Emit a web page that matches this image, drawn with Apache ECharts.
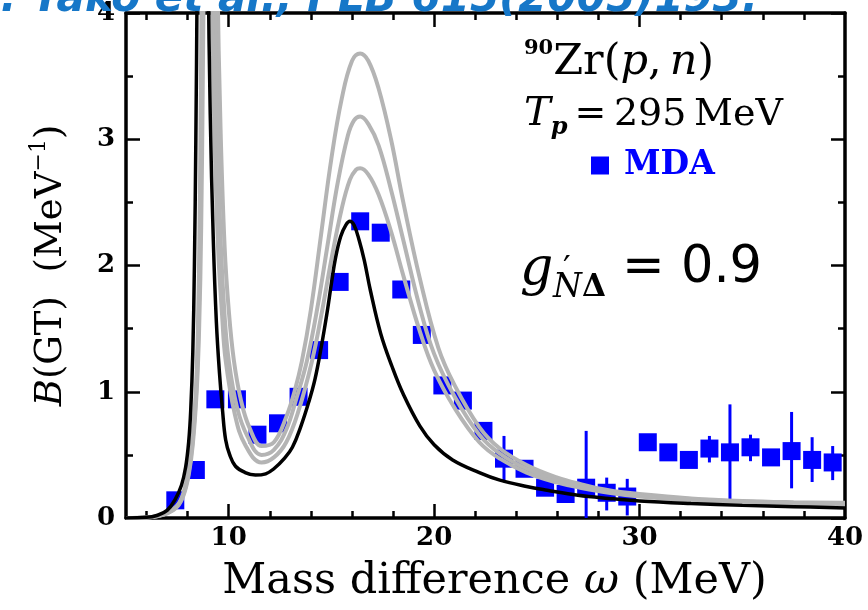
<!DOCTYPE html>
<html><head><meta charset="utf-8">
<script src="https://cdn.jsdelivr.net/npm/echarts@6/dist/echarts.min.js"></script>
<style>html,body{margin:0;padding:0;background:#fff}#c{width:868px;height:610px}</style>
</head><body><div id="c"></div>
<script>
// ---- data ----
const mdaX = [7.4, 8.4, 9.35, 10.4, 11.4, 12.4, 13.4, 14.4, 15.4, 16.4, 17.4, 18.4, 19.4, 20.4, 21.4, 22.4, 23.4, 24.4, 25.4, 26.4, 27.4, 28.4, 29.4, 30.4, 31.4, 32.4, 33.4, 34.4, 35.4, 36.4, 37.4, 38.4, 39.4];
const mdaY = [0.14, 0.38, 0.94, 0.94, 0.66, 0.75, 0.96, 1.33, 1.87, 2.35, 2.26, 1.81, 1.45, 1.05, 0.93, 0.69, 0.47, 0.39, 0.24, 0.19, 0.24, 0.20, 0.17, 0.60, 0.52, 0.46, 0.55, 0.52, 0.56, 0.48, 0.53, 0.46, 0.44];
const errX  = [23.4, 27.4, 28.4, 29.4, 33.4, 34.4, 35.4, 37.4, 38.4, 39.4];
const errLo = [0.30, 0.00, 0.06, 0.02, 0.44, 0.15, 0.45, 0.235, 0.285, 0.30];
const errHi = [0.65, 0.69, 0.32, 0.31, 0.65, 0.90, 0.66, 0.84, 0.64, 0.57];

const curveBlack = [[5.0,0.0],[6.0,0.005],[6.5,0.02],[7.0,0.06],[7.4,0.15],[7.7,0.26],[7.9,0.4],[8.05,0.6],[8.15,0.85],[8.25,1.3],[8.33,2.0],[8.4,3.0],[8.46,4.2],[8.55,6.5],[8.73,9.5],[8.9,6.5],[9.0,4.4],[9.1,3.2],[9.25,2.2],[9.4,1.55],[9.55,1.15],[9.7,0.85],[9.85,0.62],[10.05,0.5],[10.33,0.41],[10.8,0.36],[11.3,0.34],[11.8,0.35],[12.2,0.39],[12.7,0.47],[13.1,0.56],[13.5,0.72],[13.9,0.92],[14.2,1.1],[14.5,1.35],[14.8,1.64],[15.0,1.86],[15.2,2.06],[15.45,2.23],[15.7,2.32],[15.9,2.35],[16.1,2.32],[16.35,2.2],[16.6,2.04],[16.9,1.8],[17.4,1.46],[17.95,1.2],[18.5,0.98],[19.3,0.73],[20.0,0.58],[20.9,0.46],[22.2,0.36],[23.2,0.3],[24.5,0.25],[25.5,0.22],[27.0,0.18],[28.5,0.155],[30.0,0.135],[32.5,0.115],[35.0,0.1],[37.5,0.09],[40.0,0.08]];
const curveGray1 = [[5.0,0.0],[6.0,0.004],[6.5,0.015],[7.0,0.04],[7.5,0.1],[7.8,0.2],[8.05,0.38],[8.25,0.65],[8.4,1.0],[8.5,1.5],[8.58,2.3],[8.65,3.5],[8.72,5.0],[8.85,8.0],[9.05,10.0],[9.25,7.0],[9.45,4.3],[9.6,3.1],[9.8,2.15],[10.0,1.65],[10.25,1.25],[10.6,0.93],[11.0,0.72],[11.6,0.57],[12.2,0.6],[12.8,0.8],[13.2,1.0],[13.56,1.24],[14.0,1.65],[14.5,2.25],[15.0,2.85],[15.5,3.32],[16.0,3.62],[16.4,3.68],[16.8,3.62],[17.3,3.4],[17.9,3.0],[18.5,2.5],[19.3,1.9],[20.2,1.35],[21.0,1.05],[22.2,0.72],[23.2,0.55],[24.5,0.42],[26.0,0.32],[27.1,0.27],[28.5,0.22],[30.0,0.19],[32.5,0.155],[35.0,0.135],[37.5,0.125],[40.0,0.12]];
const curveGray2 = [[5.0,0.0],[6.0,0.004],[6.5,0.014],[7.0,0.038],[7.5,0.095],[7.8,0.19],[8.05,0.36],[8.25,0.62],[8.42,1.0],[8.53,1.5],[8.62,2.3],[8.69,3.5],[8.76,5.0],[8.9,8.0],[9.05,10.0],[9.2,6.5],[9.32,4.3],[9.45,3.1],[9.62,2.15],[9.8,1.6],[10.0,1.25],[10.4,0.88],[10.9,0.65],[11.6,0.5],[12.2,0.54],[12.8,0.7],[13.3,0.95],[13.8,1.24],[14.3,1.65],[14.8,2.15],[15.3,2.65],[15.8,3.03],[16.1,3.15],[16.4,3.18],[16.8,3.12],[17.3,2.95],[17.9,2.6],[18.5,2.2],[19.3,1.67],[20.0,1.3],[21.0,0.96],[22.2,0.66],[23.2,0.51],[24.5,0.39],[26.0,0.3],[27.1,0.26],[28.5,0.21],[30.0,0.18],[32.5,0.15],[35.0,0.13],[37.5,0.118],[40.0,0.11]];
const curveGray3 = [[5.0,0.0],[6.0,0.004],[6.5,0.013],[7.0,0.036],[7.5,0.09],[7.8,0.18],[8.05,0.34],[8.25,0.58],[8.44,1.0],[8.56,1.5],[8.66,2.3],[8.74,3.5],[8.82,5.0],[8.95,8.0],[9.05,9.0],[9.12,6.0],[9.18,4.3],[9.3,3.1],[9.48,2.15],[9.68,1.6],[9.85,1.25],[10.3,0.82],[10.8,0.58],[11.6,0.44],[12.2,0.48],[12.8,0.6],[13.4,0.85],[14.05,1.24],[14.5,1.6],[15.0,2.05],[15.5,2.45],[15.9,2.68],[16.2,2.76],[16.4,2.77],[16.8,2.72],[17.3,2.56],[17.9,2.27],[18.5,1.92],[19.3,1.48],[20.0,1.17],[21.0,0.87],[22.2,0.6],[23.2,0.47],[24.5,0.36],[26.0,0.28],[27.1,0.24],[28.5,0.2],[30.0,0.17],[32.5,0.14],[35.0,0.122],[37.5,0.11],[40.0,0.1]];

const xMajorTicks = [10, 20, 30];
const xMinorTicks = [6, 8, 12, 14, 16, 18, 22, 24, 26, 28, 32, 34, 36, 38];
const xTickLabels = [10, 20, 30, 40];

// ---- chart ----
const serif = 'DejaVu Serif';
const sans = 'DejaVu Sans';
const chart = echarts.init(document.getElementById('c'), null, {renderer: 'canvas'});

function xAx(pos, ticks, len, showLine, labels) {
  return {
    type: 'value', min: 5, max: 40, position: pos,
    axisLine: {show: showLine, onZero: false, lineStyle: {color: '#000', width: 3.5}},
    axisTick: {show: true, inside: true, length: len, lineStyle: {color: '#000', width: 2.5}, customValues: ticks},
    axisLabel: labels ? {show: true, customValues: labels, color: '#000', fontFamily: serif, fontWeight: 'bold', fontSize: 26, margin: 7} : {show: false},
    splitLine: {show: false}
  };
}
function yAx(pos, labels) {
  return {
    type: 'value', min: 0, max: 4, interval: 1, position: pos,
    axisLine: {show: true, onZero: false, lineStyle: {color: '#000', width: 3.5}},
    axisTick: {show: true, inside: true, length: 14, lineStyle: {color: '#000', width: 2.5}},
    minorTick: {show: true, splitNumber: 2, length: 7, lineStyle: {color: '#000', width: 2.5}},
    axisLabel: labels ? {show: true, color: '#000', fontFamily: serif, fontWeight: 'bold', fontSize: 26, margin: 11} : {show: false},
    splitLine: {show: false}, minorSplitLine: {show: false}
  };
}

const xMain = xAx('bottom', xMajorTicks, 14, true, xTickLabels);
xMain.name = '{r|Mass difference }{i|ω}{r| (MeV)}';
xMain.nameLocation = 'middle';
xMain.nameGap = 39;
xMain.nameTextStyle = {
  padding: [0, 0, 0, 18],
  rich: {
    r: {fontFamily: serif, fontSize: 43, color: '#000', lineHeight: 50},
    i: {fontFamily: serif, fontStyle: 'italic', fontSize: 43, color: '#000', lineHeight: 50}
  }
};
const yMain = yAx('left', true);
yMain.name = '{i|B}{r|(GT)  (MeV}{s|−1}{r|)}';
yMain.nameLocation = 'middle';
yMain.nameRotate = 90;
yMain.nameGap = 52;
yMain.nameTextStyle = {
  rich: {
    r: {fontFamily: serif, fontSize: 37, color: '#000', lineHeight: 46},
    i: {fontFamily: serif, fontStyle: 'italic', fontSize: 37, color: '#000', lineHeight: 46},
    s: {fontFamily: serif, fontSize: 22, color: '#000', lineHeight: 20, verticalAlign: 'top'}
  }
};

const line = (data, color, width, z) => ({
  type: 'line', data: data, showSymbol: false, smooth: 0.4, clip: true,
  xAxisIndex: 0, yAxisIndex: 0, z: z, silent: true,
  lineStyle: {color: color, width: width}
});

const option = {
  animation: false,
  backgroundColor: '#fff',
  grid: {left: 126, right: 23, top: 8, bottom: 92, containLabel: false},
  xAxis: [xMain, xAx('bottom', xMinorTicks, 7, false, null), xAx('top', xMajorTicks, 14, true, null), xAx('top', xMinorTicks, 7, false, null)],
  yAxis: [yMain, yAx('right', false)],
  legend: {
    data: [{name: 'MDA', icon: 'rect'}], left: 591, top: 149, itemWidth: 18, itemHeight: 18, padding: 0,
    textStyle: {color: '#0000ff', fontFamily: serif, fontWeight: 'bold', fontSize: 33, padding: [0, 0, 0, 10]}
  },
  series: [
    {name: 'MDA', type: 'scatter', data: mdaX.map((x, i) => [x, mdaY[i]]), symbol: 'rect', symbolSize: 18,
     itemStyle: {color: '#0000ff', opacity: 1}, z: 2, clip: true},
    {name: 'err', type: 'custom', data: errX.map((x, i) => [x, errLo[i], errHi[i]]), z: 3, clip: true,
     renderItem: function (params, api) {
       const a = api.coord([api.value(0), api.value(1)]);
       const b = api.coord([api.value(0), api.value(2)]);
       return {type: 'line', shape: {x1: a[0], y1: a[1], x2: b[0], y2: b[1]}, style: {stroke: '#0000ff', lineWidth: 3}};
     }},
    line(curveGray1, '#b4b4b4', 4, 4),
    line(curveGray2, '#b4b4b4', 4, 4),
    line(curveGray3, '#b4b4b4', 4, 4),
    line(curveBlack, '#000', 3.5, 5)
  ],
  graphic: [
    {type: 'text', x: -32, y: 0, z: 100, style: {text: 'K. Yako et al., PLB 615(2005)193.', fill: '#1677c8', fontFamily: sans, fontWeight: 'bold', fontStyle: 'italic', fontSize: 42, verticalAlign: 'middle'}},
    {type: 'text', x: 524, y: 63, z: 100, style: {
      text: '{s|90}{r|Zr(}{i|p}{c|,}{i|n}{r|)}', verticalAlign: 'middle', fill: '#000',
      rich: {
        s: {fontFamily: serif, fontWeight: 'bold', fontSize: 21, lineHeight: 14, verticalAlign: 'top', fill: '#000'},
        r: {fontFamily: serif, fontSize: 43, lineHeight: 50, fill: '#000'},
        c: {fontFamily: serif, fontSize: 43, lineHeight: 50, fill: '#000', padding: [0, 8, 0, 0]},
        i: {fontFamily: serif, fontStyle: 'italic', fontSize: 43, lineHeight: 50, fill: '#000'}
      }}},
    {type: 'text', x: 524, y: 115, z: 100, style: {
      text: '{i|T}{b|p}{r|=\u2009295\u2009MeV}', verticalAlign: 'middle', fill: '#000',
      rich: {
        i: {fontFamily: serif, fontStyle: 'italic', fontSize: 40, lineHeight: 50, fill: '#000'},
        b: {fontFamily: serif, fontStyle: 'italic', fontWeight: 'bold', fontSize: 24, lineHeight: 22, verticalAlign: 'bottom', fill: '#000'},
        r: {fontFamily: serif, fontSize: 38, lineHeight: 50, fill: '#000', padding: [0, 0, 0, 7]}
      }}},
    {type: 'text', x: 520, y: 270, z: 100, style: {text: 'g', fill: '#000', fontFamily: serif, fontStyle: 'italic', fontSize: 52, verticalAlign: 'middle'}},
    {type: 'text', x: 563, y: 271, z: 100, style: {text: '′', fill: '#000', fontFamily: sans, fontSize: 34, verticalAlign: 'middle'}},
    {type: 'text', x: 553, y: 288, z: 100, style: {
      text: '{i|N}{r|Δ}', verticalAlign: 'middle',
      rich: {
        i: {fontFamily: serif, fontStyle: 'italic', fontSize: 33, fill: '#000'},
        r: {fontFamily: serif, fontWeight: 'bold', fontSize: 31, fill: '#000'}
      }}},
    {type: 'text', x: 622, y: 269, z: 100, style: {text: '= 0.9', fill: '#000', fontFamily: sans, fontSize: 51, verticalAlign: 'middle'}}
  ]
};
chart.setOption(option);
</script>
</body></html>
